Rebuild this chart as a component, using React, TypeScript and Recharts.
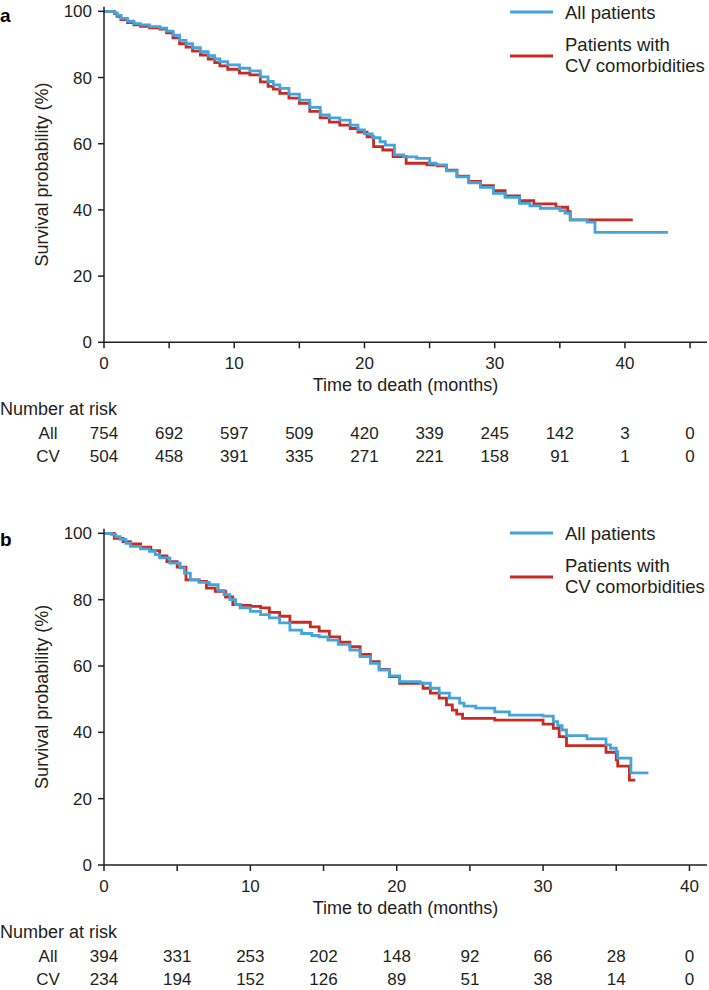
import React from 'react';
import { LineChart, Line, XAxis, YAxis, Label } from 'recharts';

const FONT = '"Liberation Sans", Arial, Helvetica, sans-serif';
const BLUE = '#43a5dc';
const RED = '#c92a21';
const INK = '#231f20';

// panel a – KM estimates (months, % surviving)
const aAllTime = [0, 0.8, 1.0, 1.3, 1.8, 2.3, 2.8, 3.5, 4.3, 4.8, 5.3, 5.8, 6.3, 6.8, 7.4, 8.0, 8.5, 8.9, 9.5, 10.4, 11.2, 12.0, 12.6, 13.0, 13.5, 14.2, 15.0, 15.8, 16.6, 17.3, 18.1, 18.9, 19.5, 20.0, 20.6, 21.2, 21.6, 22.3, 23.0, 24.0, 25.0, 25.5, 26.3, 27.1, 28.0, 28.9, 29.9, 30.8, 31.9, 32.7, 33.5, 35.0, 35.4, 35.8, 37.1, 37.7, 43.3];
const aAllSurv = [100, 99.5, 98.8, 97.9, 97.0, 96.3, 95.9, 95.4, 94.9, 94.0, 92.8, 91.2, 90.2, 89.0, 87.8, 86.6, 85.6, 84.8, 83.8, 82.8, 82.0, 80.2, 78.8, 77.8, 76.7, 75.0, 73.2, 71.0, 68.7, 67.8, 67.1, 65.6, 64.2, 63.0, 61.8, 60.6, 59.6, 56.6, 56.0, 55.6, 54.1, 53.6, 51.8, 50.0, 48.2, 46.8, 45.0, 43.8, 42.0, 41.2, 40.5, 39.8, 39.0, 37.0, 36.3, 33.2, 33.2];
const aCvTime = [0, 0.8, 1.0, 1.3, 1.8, 2.3, 2.8, 3.5, 4.3, 4.8, 5.3, 5.8, 6.3, 6.8, 7.4, 8.0, 8.5, 8.9, 9.5, 10.4, 11.2, 12.0, 12.6, 13.0, 13.5, 14.2, 15.0, 15.8, 16.6, 17.3, 18.1, 18.9, 19.5, 20.2, 20.7, 21.4, 22.2, 23.2, 24.8, 25.6, 26.3, 27.1, 28.0, 28.9, 29.9, 30.8, 31.9, 33.0, 34.7, 35.6, 35.8, 40.6];
const aCvSurv = [100, 99.3, 98.5, 97.5, 96.6, 95.9, 95.5, 95.0, 94.6, 93.5, 92.0, 90.2, 89.2, 88.0, 86.8, 85.6, 84.5, 83.5, 82.5, 81.3, 80.8, 78.7, 77.3, 76.5, 75.2, 73.8, 72.2, 69.8, 67.8, 66.5, 65.6, 64.6, 63.5, 62.1, 59.1, 58.1, 56.1, 54.1, 53.6, 53.3, 52.0, 50.2, 48.6, 47.3, 45.8, 44.2, 42.8, 41.8, 40.8, 39.5, 37.0, 37.0];
const aRiskTimes = [0, 5, 10, 15, 20, 25, 30, 35, 40, 45];
const aRiskAll = [754, 692, 597, 509, 420, 339, 245, 142, 3, 0];
const aRiskCv = [504, 458, 391, 335, 271, 221, 158, 91, 1, 0];

// panel b
const bAllTime = [0, 0.5, 0.8, 1.1, 1.5, 1.8, 2.5, 3.1, 3.5, 3.8, 4.5, 5.2, 5.5, 5.9, 6.5, 7.2, 7.8, 8.2, 8.6, 9.0, 9.3, 10.0, 10.7, 11.3, 12.0, 12.7, 13.5, 14.2, 14.7, 15.3, 16.0, 16.8, 17.5, 18.2, 18.8, 19.5, 20.2, 21.6, 22.3, 22.9, 23.6, 24.3, 24.6, 25.4, 26.7, 27.7, 30.0, 30.7, 31.0, 31.3, 31.6, 33.0, 34.3, 34.6, 35.0, 35.1, 36.0, 37.2];
const bAllSurv = [100, 99.7, 99.0, 98.2, 97.0, 96.1, 95.3, 94.6, 93.6, 92.6, 91.0, 89.6, 88.0, 86.0, 85.2, 84.5, 82.8, 81.5, 80.0, 78.5, 77.5, 76.5, 75.5, 74.5, 73.0, 70.8, 69.8, 69.2, 68.8, 67.8, 66.5, 64.8, 62.8, 60.8, 58.8, 57.0, 55.3, 54.8, 53.3, 51.8, 50.3, 48.8, 47.9, 47.3, 46.2, 45.2, 44.9, 43.2, 42.0, 40.7, 39.0, 38.0, 36.2, 35.2, 34.2, 32.2, 27.8, 27.8];
const bCvTime = [0, 0.7, 1.3, 1.8, 2.5, 3.2, 3.8, 4.3, 5.0, 5.6, 6.5, 7.0, 7.6, 8.3, 8.8, 9.3, 10.0, 10.7, 11.3, 12.0, 12.7, 14.1, 14.7, 15.4, 16.1, 16.8, 17.5, 18.2, 18.8, 19.5, 20.2, 21.8, 22.3, 22.9, 23.4, 23.8, 24.1, 24.5, 26.7, 30.0, 30.7, 31.1, 31.6, 34.3, 35.0, 35.1, 35.9, 36.3];
const bCvSurv = [100, 98.5, 97.5, 96.8, 95.8, 94.8, 93.2, 91.5, 89.8, 86.0, 85.5, 83.5, 82.5, 80.8, 78.5, 78.3, 78.0, 77.5, 76.2, 75.0, 73.2, 71.8, 70.5, 68.8, 67.2, 65.8, 63.5, 61.3, 59.0, 56.8, 54.8, 53.3, 51.8, 50.3, 48.3, 46.7, 45.5, 44.2, 43.7, 42.5, 41.2, 38.7, 36.0, 34.0, 31.7, 29.8, 25.6, 25.6];
const bRiskTimes = [0, 5, 10, 15, 20, 25, 30, 35, 40];
const bRiskAll = [394, 331, 253, 202, 148, 92, 66, 28, 0];
const bRiskCv = [234, 194, 152, 126, 89, 51, 38, 14, 0];

const yTicks = [0, 20, 40, 60, 80, 100];

const toPoints = (t: number[], s: number[]) => t.map((x, i) => ({ t: x, s: s[i] }));

// x tick: month label every 10, plus the number-at-risk table under each 5-month tick
function RiskTick(props: any) {
  const { x, y, payload, riskTimes, riskAll, riskCv } = props;
  const i = riskTimes.indexOf(payload.value);
  const axisY = y - 6;
  const common = { fontFamily: FONT, fontSize: 17, fill: INK, dominantBaseline: 'central' as const };
  return (
    <g>
      {payload.value % 10 === 0 && (
        <text x={x} y={axisY + 21} textAnchor="middle" {...common}>{payload.value}</text>
      )}
      <text x={x} y={axisY + 91} textAnchor="middle" {...common}>{riskAll[i]}</text>
      <text x={x} y={axisY + 114} textAnchor="middle" {...common}>{riskCv[i]}</text>
      {i === 0 && (
        <g>
          <text x={x - 104} y={axisY + 67} textAnchor="start" {...common} fontSize={18}>Number at risk</text>
          <text x={x - 56} y={axisY + 91} textAnchor="middle" {...common}>All</text>
          <text x={x - 56} y={axisY + 114} textAnchor="middle" {...common}>CV</text>
        </g>
      )}
    </g>
  );
}

function KMLegend({ top }: { top: number }) {
  return (
    <g fontFamily={FONT} fontSize={18.5} fill={INK}>
      <line x1={510} x2={553} y1={top} y2={top} stroke={BLUE} strokeWidth={2.8} />
      <text x={565} y={top} dominantBaseline="central">All patients</text>
      <line x1={510} x2={553} y1={top + 44} y2={top + 44} stroke={RED} strokeWidth={2.8} />
      <text x={565} y={top + 32.5} dominantBaseline="central">Patients with</text>
      <text x={565} y={top + 53.5} dominantBaseline="central">CV comorbidities</text>
    </g>
  );
}

type PanelProps = {
  letter: string;
  height: number;
  marginTop: number;
  marginBottom: number;
  xMax: number;
  allPts: { t: number; s: number }[];
  cvPts: { t: number; s: number }[];
  riskTimes: number[];
  riskAll: number[];
  riskCv: number[];
  legendTop: number;
  letterY: number;
};

function KMPanel(p: PanelProps) {
  return (
    <LineChart
      width={709}
      height={p.height}
      margin={{ top: p.marginTop, right: 2, bottom: p.marginBottom, left: 0 }}
    >
      <XAxis
        type="number"
        dataKey="t"
        domain={[0, p.xMax]}
        ticks={p.riskTimes}
        allowDataOverflow
        height={120}
        tickSize={6}
        tickMargin={0}
        axisLine={{ stroke: INK, strokeWidth: 1.5 }}
        tickLine={{ stroke: INK, strokeWidth: 1.5 }}
        tick={<RiskTick riskTimes={p.riskTimes} riskAll={p.riskAll} riskCv={p.riskCv} />}
      >
        <Label
          content={({ viewBox }: any) => (
            <text
              x={viewBox.x + viewBox.width / 2}
              y={viewBox.y + 43}
              textAnchor="middle"
              dominantBaseline="central"
              fontFamily={FONT}
              fontSize={18}
              fill={INK}
            >
              Time to death (months)
            </text>
          )}
        />
      </XAxis>
      <YAxis
        type="number"
        domain={[0, 101.4]}
        ticks={yTicks}
        allowDataOverflow
        width={104}
        tickSize={6}
        tickMargin={6}
        axisLine={{ stroke: INK, strokeWidth: 1.5 }}
        tickLine={{ stroke: INK, strokeWidth: 1.5 }}
        tick={{ fontFamily: FONT, fontSize: 17, fill: INK }}
      >
        <Label
          content={({ viewBox }: any) => {
            const cx = viewBox.x + 42;
            const cy = viewBox.y + viewBox.height / 2;
            return (
              <text
                x={cx}
                y={cy}
                transform={`rotate(-90 ${cx} ${cy})`}
                textAnchor="middle"
                dominantBaseline="central"
                fontFamily={FONT}
                fontSize={18}
                fill={INK}
              >
                Survival probability (%)
              </text>
            );
          }}
        />
      </YAxis>
      <Line
        data={p.cvPts}
        dataKey="s"
        type="stepAfter"
        stroke={RED}
        strokeWidth={2.8}
        dot={false}
        activeDot={false}
        isAnimationActive={false}
      />
      <Line
        data={p.allPts}
        dataKey="s"
        type="stepAfter"
        stroke={BLUE}
        strokeWidth={2.8}
        dot={false}
        activeDot={false}
        isAnimationActive={false}
      />
      <text x={0} y={p.letterY} dominantBaseline="central" fontFamily={FONT} fontSize={19} fontWeight="bold" fill="#000">
        {p.letter}
      </text>
      <KMLegend top={p.legendTop} />
    </LineChart>
  );
}

export default function App() {
  return (
    <div style={{ position: 'absolute', left: 0, top: 0, width: 709, height: 990, background: '#fff' }}>
      <KMPanel
        letter="a"
        height={470}
        marginTop={6.7}
        marginBottom={7.7}
        xMax={46.3}
        allPts={toPoints(aAllTime, aAllSurv)}
        cvPts={toPoints(aCvTime, aCvSurv)}
        riskTimes={aRiskTimes}
        riskAll={aRiskAll}
        riskCv={aRiskCv}
        legendTop={12}
        letterY={15}
      />
      <KMPanel
        letter="b"
        height={520}
        marginTop={58.7}
        marginBottom={5}
        xMax={41.2}
        allPts={toPoints(bAllTime, bAllSurv)}
        cvPts={toPoints(bCvTime, bCvSurv)}
        riskTimes={bRiskTimes}
        riskAll={bRiskAll}
        riskCv={bRiskCv}
        legendTop={63}
        letterY={69}
      />
    </div>
  );
}
